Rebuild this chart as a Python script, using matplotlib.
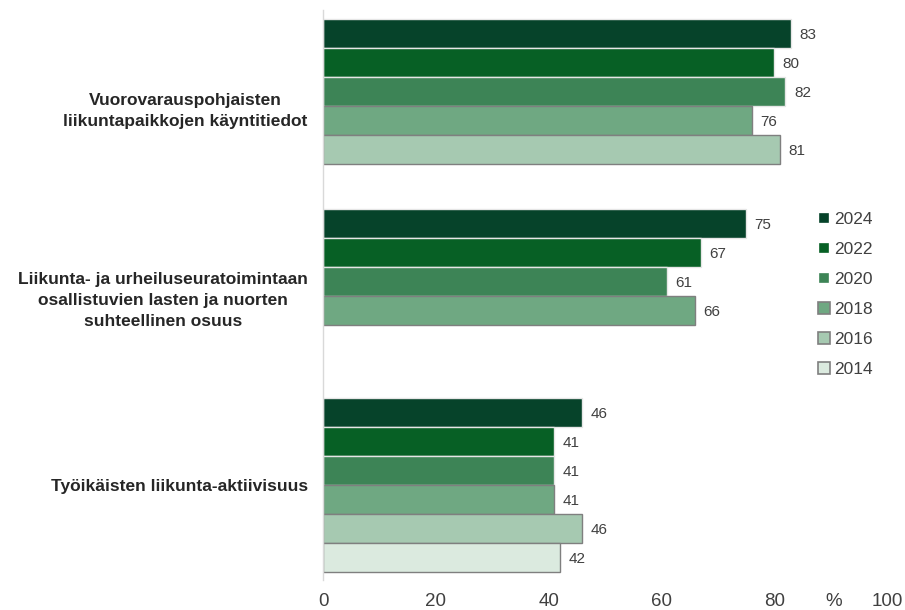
#Indicator bars by year
import numpy as np
import matplotlib.pyplot as plt
from matplotlib.lines import Line2D

plt.rcParams['font.family'] = ['Liberation Sans', 'DejaVu Sans']

groups = ['Vuorovarauspohjaisten\nliikuntapaikkojen käyntitiedot',
          'Liikunta- ja urheiluseuratoimintaan\nosallistuvien lasten ja nuorten\nsuhteellinen osuus',
          'Työikäisten liikunta-aktiivisuus']
years = ['2024', '2022', '2020', '2018', '2016', '2014']
v2024 = [83, 75, 46]
v2022 = [80, 67, 41]
v2020 = [82, 61, 41]
v2018 = [76, 66, 41]
v2016 = [81, None, 46]
v2014 = [None, None, 42]
series = [v2024, v2022, v2020, v2018, v2016, v2014]

colors = ['#06432a', '#076025', '#3d8456', '#6fa882', '#a6c9b1', '#dbeadf']
edges = ['#e6e6e6', '#e6e6e6', '#e6e6e6', '#7f7f7f', '#7f7f7f', '#7f7f7f']
msize = [6, 6, 6, 8, 8, 8]

pitch = 6.53  # group spacing in bar slots

fig = plt.figure(figsize=(9.05, 6.1), dpi=100)
ax = fig.add_axes([323/905, 1-580/610, (887-323)/905, 570/610])

for i, vals in enumerate(series):
    for g, v in enumerate(vals):
        if v is None:
            continue
        y = g*pitch + i
        ax.barh(y, v, height=1.0, color=colors[i], edgecolor=edges[i], linewidth=1.0)
        ax.text(v + 1.5, y + 0.05, str(v), va='center', ha='left', fontsize=11, color='#404040')

ax.set_xlim(0, 100)
ax.set_ylim(2*pitch + 5.77, -0.82)

ax.set_yticks([g*pitch + 2.5 for g in range(len(groups))])
ax.set_yticklabels(groups, fontsize=12.5, fontweight='bold', color='#262626')
plt.setp(ax.get_yticklabels(), multialignment='center', linespacing=1.5)

ax.set_xticks([0, 20, 40, 60, 80, 90.5, 100])
ax.set_xticklabels(['0', '20', '40', '60', '80', '%', '100'], fontsize=13.5, color='#404040')
ax.tick_params(axis='both', length=0)
ax.tick_params(axis='y', pad=11)
ax.tick_params(axis='x', pad=9.5)

for s in ['top', 'right', 'bottom']:
    ax.spines[s].set_visible(False)
ax.spines['left'].set_color('#d9d9d9')
ax.spines['left'].set_linewidth(1.0)

handles = [Line2D([], [], marker='s', linestyle='none', markersize=msize[i],
                  markerfacecolor=colors[i], markeredgecolor=edges[i] if i >= 3 else colors[i],
                  markeredgewidth=1.2) for i in range(len(years))]
fig.legend(handles, years, loc='upper left', bbox_to_anchor=(810/905, 1-205/610),
           frameon=False, fontsize=12.5, labelspacing=0.85, handlelength=0.8,
           handletextpad=0.2, borderaxespad=0, labelcolor='#404040')

fig.savefig('out.png', dpi=100)
